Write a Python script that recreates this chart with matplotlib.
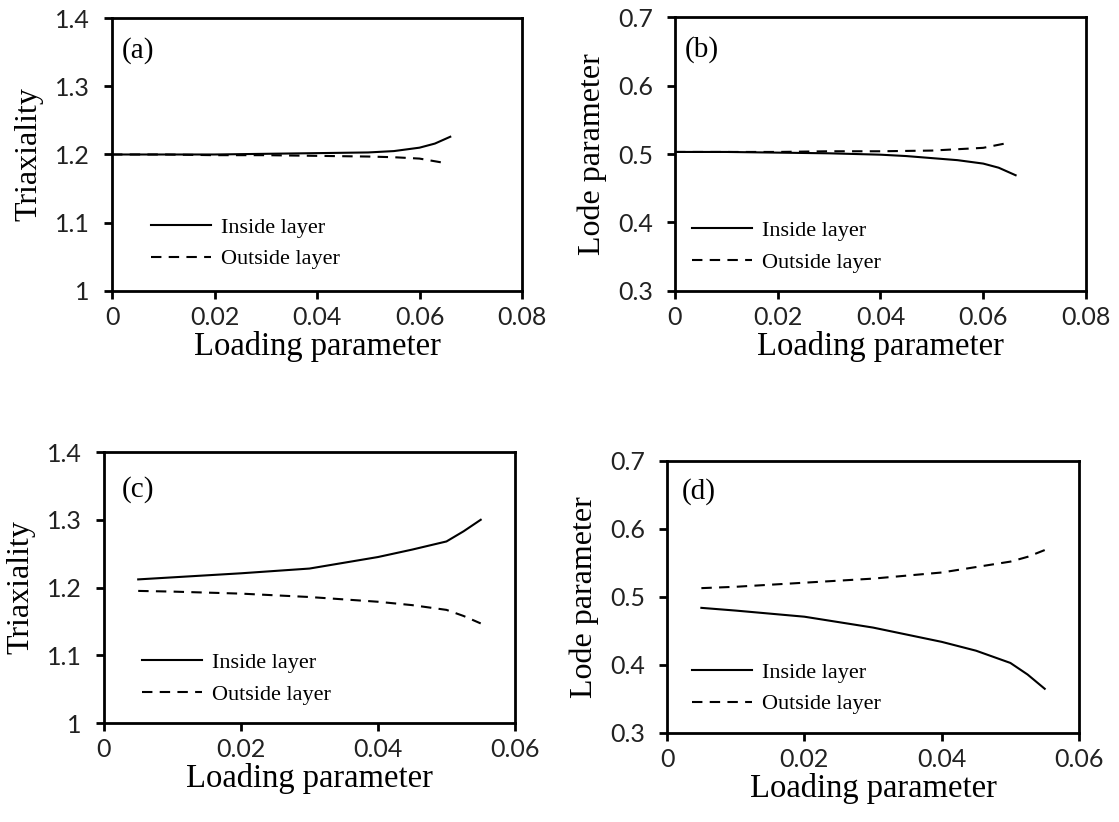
import matplotlib.pyplot as plt

# panel (a): triaxiality, case 1
xa_in = [0, 0.01, 0.02, 0.03, 0.04, 0.05, 0.055, 0.06, 0.063, 0.066]
ya_in = [1.200, 1.200, 1.200, 1.201, 1.202, 1.203, 1.205, 1.210, 1.216, 1.226]
xa_out = [0, 0.01, 0.02, 0.03, 0.04, 0.05, 0.055, 0.06, 0.0646]
ya_out = [1.200, 1.200, 1.199, 1.199, 1.198, 1.197, 1.196, 1.194, 1.188]

# panel (b): Lode parameter, case 1
xb_in = [0, 0.01, 0.02, 0.03, 0.04, 0.045, 0.05, 0.055, 0.06, 0.063, 0.0663]
yb_in = [0.503, 0.503, 0.502, 0.501, 0.499, 0.497, 0.494, 0.491, 0.486, 0.480, 0.469]
xb_out = [0, 0.01, 0.02, 0.03, 0.04, 0.05, 0.055, 0.06, 0.0647]
yb_out = [0.503, 0.503, 0.503, 0.504, 0.504, 0.505, 0.507, 0.509, 0.516]

# panel (c): triaxiality, case 2
xc = [0.005, 0.01, 0.02, 0.03, 0.04, 0.045, 0.05, 0.0525, 0.055]
yc_in = [1.212, 1.215, 1.221, 1.228, 1.245, 1.256, 1.268, 1.283, 1.300]
yc_out = [1.195, 1.194, 1.191, 1.186, 1.179, 1.174, 1.167, 1.158, 1.147]

# panel (d): Lode parameter, case 2
xd = [0.005, 0.01, 0.02, 0.03, 0.04, 0.045, 0.05, 0.0525, 0.055]
yd_in = [0.484, 0.480, 0.471, 0.455, 0.434, 0.421, 0.403, 0.386, 0.365]
yd_out = [0.513, 0.515, 0.521, 0.527, 0.536, 0.544, 0.552, 0.559, 0.569]

serif = 'Liberation Serif'
sans = 'Lato'

fig = plt.figure(figsize=(11.19, 8.22), dpi=100)

panels = [
    # rect, xmax, xticks, ylim, yticks, yticklabels, ylabel, tag, tag pos, legend anchor, data
    ([0.1001, 0.646, 0.3664, 0.3321], 0.08, [0, 0.02, 0.04, 0.06, 0.08], (1, 1.4),
     [1, 1.1, 1.2, 1.3, 1.4], ['1', '1.1', '1.2', '1.3', '1.4'], 'Triaxiality', '(a)', (0.024, 0.88),
     (0.095, 0.175), (xa_in, ya_in, xa_out, ya_out)),
    ([0.6032, 0.646, 0.3673, 0.3333], 0.08, [0, 0.02, 0.04, 0.06, 0.08], (0.3, 0.7),
     [0.3, 0.4, 0.5, 0.6, 0.7], ['0.3', '0.4', '0.5', '0.6', '0.7'], 'Lode parameter', '(b)', (0.024, 0.88),
     (0.042, 0.162), (xb_in, yb_in, xb_out, yb_out)),
    ([0.0929, 0.1204, 0.3673, 0.3297], 0.06, [0, 0.02, 0.04, 0.06], (1, 1.4),
     [1, 1.1, 1.2, 1.3, 1.4], ['1', '1.1', '1.2', '1.3', '1.4'], 'Triaxiality', '(c)', (0.044, 0.86),
     (0.093, 0.164), (xc, yc_in, xc, yc_out)),
    ([0.5961, 0.1083, 0.3682, 0.3309], 0.06, [0, 0.02, 0.04, 0.06], (0.3, 0.7),
     [0.3, 0.4, 0.5, 0.6, 0.7], ['0.3', '0.4', '0.5', '0.6', '0.7'], 'Lode parameter', '(d)', (0.036, 0.886),
     (0.061, 0.164), (xd, yd_in, xd, yd_out)),
]

for rect, xmax, xt, ylim, yt, ytl, ylab, tag, tagpos, legpos, d in panels:
    ax = fig.add_axes(rect)
    ax.plot(d[0], d[1], color='black', lw=1.5, label='Inside layer')
    ax.plot(d[2], d[3], color='black', lw=1.5, dashes=(5, 3.5), label='Outside layer')
    ax.set_xlim(0, xmax)
    ax.set_ylim(*ylim)
    ax.set_xticks(xt)
    ax.set_xticklabels(['0'] + ['%.2f' % v for v in xt[1:]], fontfamily=sans, fontsize=18, color='#222222')
    ax.set_yticks(yt)
    ax.set_yticklabels(ytl, fontfamily=sans, fontsize=18, color='#222222')
    ax.tick_params(direction='out', length=6, width=2)
    ax.tick_params(axis='x', pad=5)
    ax.tick_params(axis='y', pad=10)
    for s in ax.spines.values():
        s.set_linewidth(2)
    ax.set_xlabel('Loading parameter', fontfamily=serif, fontsize=23.5, labelpad=1)
    ax.set_ylabel(ylab, fontfamily=serif, fontsize=23, labelpad=8)
    ax.text(tagpos[0], tagpos[1], tag, transform=ax.transAxes, fontfamily=serif,
            fontsize=21, va='center', ha='left')
    ax.legend(loc='center left', bbox_to_anchor=legpos, frameon=False,
              prop={'family': serif, 'size': 16}, handlelength=2.7,
              handletextpad=0.45, borderpad=0, borderaxespad=0, labelspacing=0.5)

fig.savefig('out.png', dpi=100)
